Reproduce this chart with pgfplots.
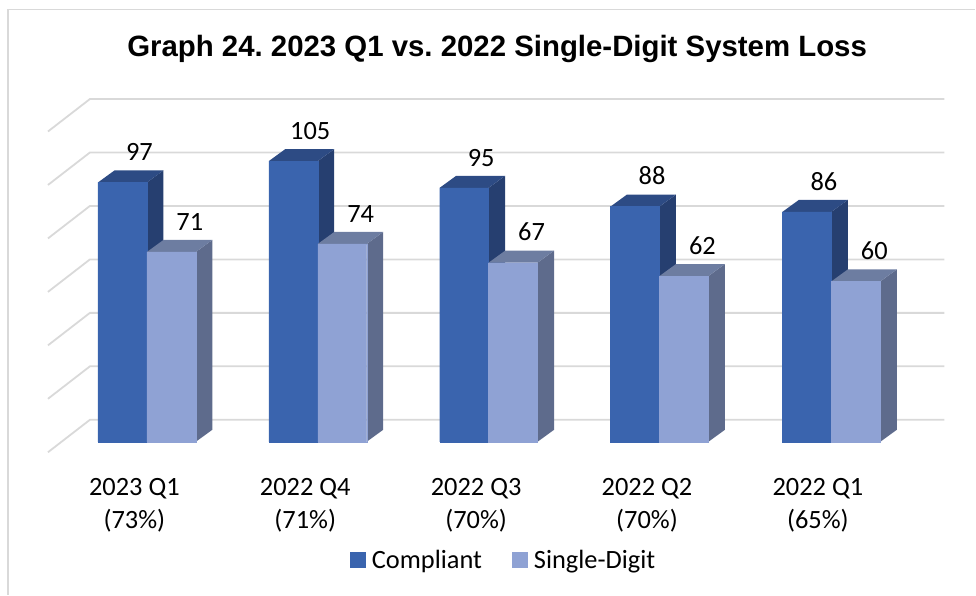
\documentclass[border=0pt]{standalone}
\usepackage{pgfplots}
\pgfplotsset{compat=1.18}
\usepackage{fontspec}
\setmainfont{Carlito}
\newfontfamily\arialb[Scale=1]{Liberation Sans}
\definecolor{cA}{HTML}{3A64AE}
\definecolor{cAt}{HTML}{2D4B84}
\definecolor{cAs}{HTML}{263F70}
\definecolor{cB}{HTML}{8FA2D4}
\definecolor{cBt}{HTML}{6D7DA1}
\definecolor{cBs}{HTML}{5E6B8C}
\definecolor{gridc}{HTML}{D9D9D9}
\frenchspacing
\begin{document}
\begin{tikzpicture}
\begin{axis}[
  width=976pt,height=595pt,scale only axis,
  xmin=0,xmax=976,ymin=-57.196,ymax=165.234,
  axis line style={draw=none},
  major tick length=0pt,
  ytick=\empty,
  xtick={134.5,305.5,476.5,647.5,818.5},
  xticklabels={{2023 Q1\\(73\%)},{2022 Q4\\(71\%)},{2022 Q3\\(70\%)},{2022 Q2\\(70\%)},{2022 Q1\\(65\%)}},
  x tick label style={align=center,font=\fontsize{26.4}{33}\selectfont,inner sep=0pt,yshift=117pt},
  clip=false,
  title style={at={(axis cs:497.5,165.234)},anchor=north,yshift=-38pt,font=\arialb\bfseries\fontsize{29.4}{33}\selectfont},
  title={Graph 24. 2023 Q1 vs. 2022 Single-Digit System Loss},
  legend style={draw=none,fill=none,at={(axis cs:504,-44.2)},anchor=center,legend columns=2,font=\fontsize{26.4}{30}\selectfont,/tikz/every odd column/.append style={column sep=5pt},/tikz/every even column/.append style={column sep=28pt},inner sep=0pt},
  /pgf/number format/assume math mode=true,
]
% frame
\addplot[draw=gridc,line width=1.5pt,forget plot] coordinates {(8,-57.196)(8,161.7)(976,161.7)};
% gridlines
\addplot[gridc,line width=1.8pt,forget plot] coordinates {(48,-3.93)(90,8.22)(945,8.22)};
\addplot[gridc,line width=1.8pt,forget plot] coordinates {(48,16.07)(90,28.22)(945,28.22)};
\addplot[gridc,line width=1.8pt,forget plot] coordinates {(48,36.07)(90,48.22)(945,48.22)};
\addplot[gridc,line width=1.8pt,forget plot] coordinates {(48,56.07)(90,68.22)(945,68.22)};
\addplot[gridc,line width=1.8pt,forget plot] coordinates {(48,76.07)(90,88.22)(945,88.22)};
\addplot[gridc,line width=1.8pt,forget plot] coordinates {(48,96.07)(90,108.22)(945,108.22)};
\addplot[gridc,line width=1.8pt,forget plot] coordinates {(48,116.07)(90,128.22)(945,128.22)};
% dark sides and tops
\addplot[fill=cAs,draw=none,forget plot] coordinates {(147,0)(163.5,4.486)(163.5,101.486)(147,97)} -- cycle;
\addplot[fill=cAt,draw=none,forget plot] coordinates {(98,97)(114.5,101.486)(163.5,101.486)(147,97)} -- cycle;
\addplot[fill=cAs,draw=none,forget plot] coordinates {(318,0)(334.5,4.486)(334.5,109.486)(318,105)} -- cycle;
\addplot[fill=cAt,draw=none,forget plot] coordinates {(269,105)(285.5,109.486)(334.5,109.486)(318,105)} -- cycle;
\addplot[fill=cAs,draw=none,forget plot] coordinates {(489,0)(505.5,4.486)(505.5,99.486)(489,95)} -- cycle;
\addplot[fill=cAt,draw=none,forget plot] coordinates {(440,95)(456.5,99.486)(505.5,99.486)(489,95)} -- cycle;
\addplot[fill=cAs,draw=none,forget plot] coordinates {(660,0)(676.5,4.486)(676.5,92.486)(660,88)} -- cycle;
\addplot[fill=cAt,draw=none,forget plot] coordinates {(611,88)(627.5,92.486)(676.5,92.486)(660,88)} -- cycle;
\addplot[fill=cAs,draw=none,forget plot] coordinates {(832,0)(848.5,4.486)(848.5,90.486)(832,86)} -- cycle;
\addplot[fill=cAt,draw=none,forget plot] coordinates {(783,86)(799.5,90.486)(848.5,90.486)(832,86)} -- cycle;
% dark fronts
\addplot[ybar,bar width=49,bar shift=0pt,fill=cA,draw=cA,line width=0.3pt,forget plot,
  nodes near coords,
  every node near coord/.append style={font=\fontsize{26.4}{30}\selectfont,inner sep=0pt,anchor=south,xshift=17pt,yshift=21.5pt,text=black}]
  coordinates {(122.5,97)(293.5,105)(464.5,95)(635.5,88)(807.5,86)};
% light sides and tops
\addplot[fill=cBs,draw=none,forget plot] coordinates {(196,0)(212.5,4.486)(212.5,75.486)(196,71)} -- cycle;
\addplot[fill=cBt,draw=none,forget plot] coordinates {(147,71)(163.5,75.486)(212.5,75.486)(196,71)} -- cycle;
\addplot[fill=cBs,draw=none,forget plot] coordinates {(367,0)(383.5,4.486)(383.5,78.486)(367,74)} -- cycle;
\addplot[fill=cBt,draw=none,forget plot] coordinates {(318,74)(334.5,78.486)(383.5,78.486)(367,74)} -- cycle;
\addplot[fill=cBs,draw=none,forget plot] coordinates {(538,0)(554.5,4.486)(554.5,71.486)(538,67)} -- cycle;
\addplot[fill=cBt,draw=none,forget plot] coordinates {(489,67)(505.5,71.486)(554.5,71.486)(538,67)} -- cycle;
\addplot[fill=cBs,draw=none,forget plot] coordinates {(709,0)(725.5,4.486)(725.5,66.486)(709,62)} -- cycle;
\addplot[fill=cBt,draw=none,forget plot] coordinates {(660,62)(676.5,66.486)(725.5,66.486)(709,62)} -- cycle;
\addplot[fill=cBs,draw=none,forget plot] coordinates {(881,0)(897.5,4.486)(897.5,64.486)(881,60)} -- cycle;
\addplot[fill=cBt,draw=none,forget plot] coordinates {(832,60)(848.5,64.486)(897.5,64.486)(881,60)} -- cycle;
% light fronts
\addplot[ybar,bar width=49,bar shift=0pt,fill=cB,draw=cB,line width=0.3pt,forget plot,
  nodes near coords,
  every node near coord/.append style={font=\fontsize{26.4}{30}\selectfont,inner sep=0pt,anchor=south,xshift=18.5pt,yshift=21.5pt,text=black}]
  coordinates {(171.5,71)(342.5,74)(513.5,67)(684.5,62)(856.5,60)};
\addlegendimage{only marks,mark=square*,mark size=7.5pt,color=cA,mark options={draw=none}}
\addlegendentry{Compliant}
\addlegendimage{only marks,mark=square*,mark size=7.5pt,color=cB,mark options={draw=none}}
\addlegendentry{Single-Digit}
\end{axis}
\end{tikzpicture}
\end{document}
